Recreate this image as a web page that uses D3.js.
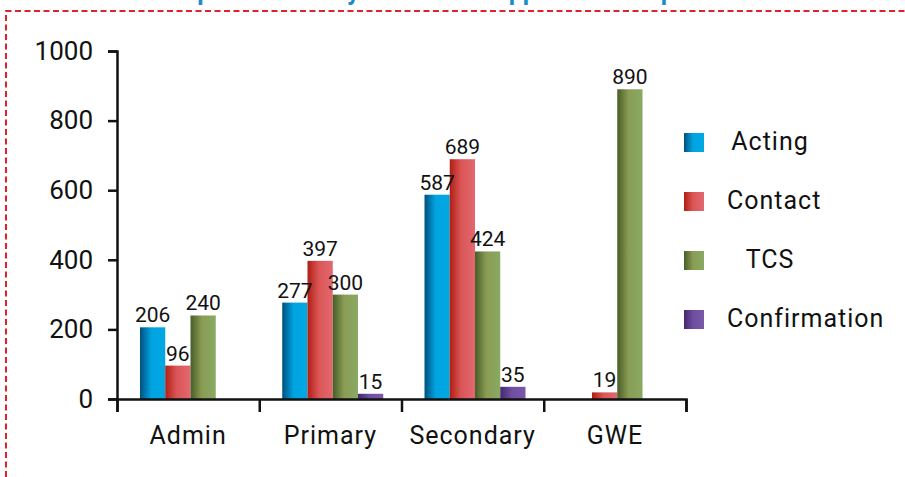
<!DOCTYPE html>
<html>
<head>
<meta charset="utf-8">
<script src="https://cdn.jsdelivr.net/npm/d3@7"></script>
<style>
  html, body { margin: 0; padding: 0; background: #fff; }
  svg { display: block; font-family: Roboto, "Noto Sans", sans-serif; }
</style>
</head>
<body>
<svg id="chart" width="905" height="477"></svg>
<script>
// Categories along the x axis
const categories = ["Admin", "Primary", "Secondary", "GWE"];
// Series names (legend order)
const seriesNames = ["Acting", "Contact", "TCS", "Confirmation"];
// Values per series, one per category (null = no bar)
const acting = [206, 277, 587, null];
const contact = [96, 397, 689, 19];
const tcs = [240, 300, 424, 890];
const confirmation = [null, 15, 35, null];
// Y axis tick values
const yTicks = [0, 200, 400, 600, 800, 1000];
const titleText = "Completed Files by Status and Approved for Upload";

const seriesValues = [acting, contact, tcs, confirmation];
// Gradient stops: dark left edge fading to the bright face colour
const palette = [
  ["#00507e", "#00a4e0", "#00a8e2"],
  ["#b01e14", "#da5656", "#e26870"],
  ["#475e26", "#8a9c55", "#88aa62"],
  ["#45286e", "#6e4ea0", "#7a58ac"]
];

const svg = d3.select("#chart");
const defs = svg.append("defs");
palette.forEach((c, i) => {
  const g = defs.append("linearGradient")
    .attr("id", "grad" + i).attr("x1", 0).attr("x2", 1).attr("y1", 0).attr("y2", 0);
  g.append("stop").attr("offset", "0%").attr("stop-color", c[0]);
  g.append("stop").attr("offset", "45%").attr("stop-color", c[1]);
  g.append("stop").attr("offset", "100%").attr("stop-color", c[2]);
});

// Title (sits above the frame, mostly outside the view)
svg.append("text")
  .attr("x", 434).attr("y", 0)
  .attr("text-anchor", "middle")
  .attr("font-size", 25).attr("font-weight", "bold")
  .attr("fill", "#1a8cc8")
  .text(titleText);

// Dashed red frame (top and left edges)
svg.append("path")
  .attr("d", "M6,477V11H905")
  .attr("fill", "none")
  .attr("stroke", "#e0222e")
  .attr("stroke-width", 2)
  .attr("stroke-dasharray", "6,3.5");

const x0 = 117, x1 = 686, yBase = 399, yTop = 51;
const x = d3.scaleBand().domain(categories).range([x0, x1]);
const xs = d3.scaleBand().domain(seriesNames).range([23, 23 + 101]);
const y = d3.scaleLinear().domain([0, 1000]).range([yBase, yTop]);

// Bars
const bars = [];
categories.forEach((cat, ci) => {
  seriesNames.forEach((s, si) => {
    const v = seriesValues[si][ci];
    if (v !== null && v !== undefined) bars.push({ cat, s, si, v });
  });
});

const gBars = svg.append("g");
gBars.selectAll("rect").data(bars).join("rect")
  .attr("x", d => x(d.cat) + xs(d.s))
  .attr("width", xs.bandwidth())
  .attr("y", d => y(d.v))
  .attr("height", d => yBase - y(d.v))
  .attr("fill", d => `url(#grad${d.si})`);

gBars.selectAll("text").data(bars).join("text")
  .attr("x", d => x(d.cat) + xs(d.s) + xs.bandwidth() / 2)
  .attr("y", d => y(d.v) - 5)
  .attr("text-anchor", "middle")
  .attr("font-size", 21)
  .attr("fill", "#111")
  .text(d => d.v);

// Y axis
const yAxis = d3.axisLeft(y).tickValues(yTicks).tickFormat(d3.format("d"))
  .tickSize(9).tickSizeOuter(9).tickPadding(15);
const gy = svg.append("g").attr("transform", `translate(${x0},0)`).call(yAxis);
gy.selectAll("text").attr("font-size", 26).attr("fill", "#111").attr("font-family", "Roboto, sans-serif");

// X axis: boundary ticks between categories
const xEdges = d3.scaleLinear().domain([0, categories.length]).range([x0, x1]);
const xAxisEdges = d3.axisBottom(xEdges).ticks(categories.length).tickSize(13).tickSizeOuter(13).tickFormat("");
svg.append("g").attr("transform", `translate(0,${yBase})`).call(xAxisEdges);

// X axis: category labels centred in each band
const xAxisLabels = d3.axisBottom(x).tickSize(0).tickPadding(27);
const gx = svg.append("g").attr("transform", `translate(0,${yBase})`).call(xAxisLabels);
gx.select(".domain").remove();
gx.selectAll("text").attr("font-size", 25).attr("letter-spacing", 1)
  .attr("fill", "#111").attr("font-family", "Roboto, sans-serif");

svg.selectAll(".domain, .tick line").attr("stroke", "#111").attr("stroke-width", 2.5);

// Legend
const legend = svg.append("g");
seriesNames.forEach((s, i) => {
  const ly = 133 + i * 59;
  legend.append("rect")
    .attr("x", 684).attr("y", ly).attr("width", 20).attr("height", 19)
    .attr("fill", `url(#grad${i})`);
  const t = legend.append("text")
    .attr("y", ly + 8)
    .attr("dy", "0.35em")
    .attr("font-size", 25)
    .attr("letter-spacing", 1)
    .attr("fill", "#111")
    .text(s);
  const w = t.node().getComputedTextLength();
  t.attr("x", Math.max(727, 770 - w / 2));
});
</script>
</body>
</html>
